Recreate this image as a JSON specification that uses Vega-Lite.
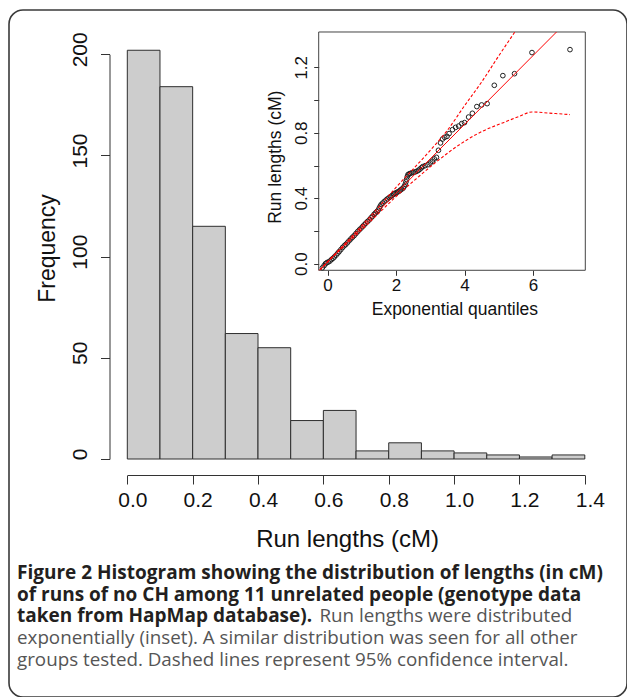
{
  "$schema": "https://vega.github.io/schema/vega-lite/v6.json",
  "width": 618,
  "height": 687,
  "autosize": "none",
  "padding": {"left": 9, "top": 10, "right": 0, "bottom": 0},
  "background": "white",
  "config": {
    "view": {"stroke": "#3a3a3a", "strokeWidth": 1.6, "cornerRadius": 14, "fill": "white"},
    "axis": {
      "grid": false,
      "labelFlush": false,
      "labelOverlap": false,
      "labelBound": false,
      "domainColor": "#333333",
      "tickColor": "#333333",
      "domainWidth": 1,
      "tickWidth": 1,
      "labelColor": "#111111",
      "titleColor": "#111111",
      "labelFont": "Liberation Sans",
      "titleFont": "Liberation Sans",
      "titleFontWeight": "normal"
    }
  },
  "title": {
    "text": [
      "Figure 2 Histogram showing the distribution of lengths (in cM)",
      "of runs of no CH among 11 unrelated people (genotype data",
      "taken from HapMap database)."
    ],
    "subtitle": [
      "\u200b\u00a0\u00a0\u00a0\u00a0\u00a0\u00a0\u00a0\u00a0\u00a0\u00a0\u00a0\u00a0\u00a0\u00a0\u00a0\u00a0\u00a0\u00a0\u00a0\u00a0\u00a0\u00a0\u00a0\u00a0\u00a0\u00a0\u00a0\u00a0\u00a0\u00a0\u00a0\u00a0\u00a0\u00a0\u00a0\u00a0\u00a0\u00a0\u00a0\u00a0\u00a0\u00a0\u00a0\u00a0\u00a0\u00a0\u00a0\u00a0\u00a0\u00a0\u00a0\u00a0\u00a0\u00a0\u00a0\u00a0\u00a0\u00a0\u00a0\u00a0\u00a0\u00a0Run lengths were distributed",
      "exponentially (inset). A similar distribution was seen for all other",
      "groups tested. Dashed lines represent 95% confidence interval."
    ],
    "orient": "bottom",
    "anchor": "start",
    "frame": "group",
    "offset": -133,
    "dx": 8,
    "font": "Open Sans",
    "fontSize": 19,
    "fontWeight": "bold",
    "color": "#231f20",
    "lineHeight": 21.7,
    "subtitleFont": "Open Sans",
    "subtitleFontSize": 18.8,
    "subtitleFontWeight": "normal",
    "subtitleColor": "#555555",
    "subtitleLineHeight": 21.7,
    "subtitlePadding": -19
  },
  "datasets": {
    "hist": [
      {"start": 0.0, "end": 0.1, "count": 202},
      {"start": 0.1, "end": 0.2, "count": 184},
      {"start": 0.2, "end": 0.3, "count": 115},
      {"start": 0.3, "end": 0.4, "count": 62},
      {"start": 0.4, "end": 0.5, "count": 55},
      {"start": 0.5, "end": 0.6, "count": 19},
      {"start": 0.6, "end": 0.7, "count": 24},
      {"start": 0.7, "end": 0.8, "count": 4},
      {"start": 0.8, "end": 0.9, "count": 8},
      {"start": 0.9, "end": 1.0, "count": 4},
      {"start": 1.0, "end": 1.1, "count": 3},
      {"start": 1.1, "end": 1.2, "count": 2},
      {"start": 1.2, "end": 1.3, "count": 1},
      {"start": 1.3, "end": 1.4, "count": 2}
    ],
    "qq": [
      {"q": -0.15, "len": -0.025}, {"q": -0.10, "len": -0.012}, {"q": -0.06, "len": 0.000},
      {"q": -0.02, "len": 0.006}, {"q": 0.02, "len": 0.010}, {"q": 0.07, "len": 0.016},
      {"q": 0.12, "len": 0.026}, {"q": 0.16, "len": 0.033}, {"q": 0.20, "len": 0.041},
      {"q": 0.25, "len": 0.052}, {"q": 0.30, "len": 0.064}, {"q": 0.34, "len": 0.074},
      {"q": 0.39, "len": 0.086}, {"q": 0.44, "len": 0.099}, {"q": 0.49, "len": 0.110},
      {"q": 0.53, "len": 0.117}, {"q": 0.58, "len": 0.128}, {"q": 0.63, "len": 0.140},
      {"q": 0.68, "len": 0.151}, {"q": 0.73, "len": 0.162}, {"q": 0.78, "len": 0.172},
      {"q": 0.83, "len": 0.184}, {"q": 0.88, "len": 0.196}, {"q": 0.93, "len": 0.207},
      {"q": 0.98, "len": 0.217}, {"q": 1.03, "len": 0.228}, {"q": 1.07, "len": 0.237},
      {"q": 1.12, "len": 0.248}, {"q": 1.17, "len": 0.258}, {"q": 1.22, "len": 0.268},
      {"q": 1.27, "len": 0.280}, {"q": 1.31, "len": 0.289}, {"q": 1.36, "len": 0.302},
      {"q": 1.40, "len": 0.310}, {"q": 1.44, "len": 0.318}, {"q": 1.48, "len": 0.327},
      {"q": 1.51, "len": 0.340}, {"q": 1.54, "len": 0.352}, {"q": 1.57, "len": 0.362},
      {"q": 1.61, "len": 0.370}, {"q": 1.66, "len": 0.380}, {"q": 1.71, "len": 0.389},
      {"q": 1.75, "len": 0.396}, {"q": 1.80, "len": 0.404}, {"q": 1.84, "len": 0.410},
      {"q": 1.88, "len": 0.416}, {"q": 1.93, "len": 0.424}, {"q": 1.97, "len": 0.430},
      {"q": 2.01, "len": 0.434}, {"q": 2.05, "len": 0.438}, {"q": 2.09, "len": 0.443},
      {"q": 2.13, "len": 0.450}, {"q": 2.17, "len": 0.456}, {"q": 2.21, "len": 0.462},
      {"q": 2.24, "len": 0.472}, {"q": 2.27, "len": 0.485}, {"q": 2.29, "len": 0.500},
      {"q": 2.31, "len": 0.515}, {"q": 2.33, "len": 0.532}, {"q": 2.35, "len": 0.544},
      {"q": 2.38, "len": 0.548}, {"q": 2.41, "len": 0.551}, {"q": 2.46, "len": 0.555},
      {"q": 2.51, "len": 0.558}, {"q": 2.56, "len": 0.561}, {"q": 2.61, "len": 0.565},
      {"q": 2.66, "len": 0.571}, {"q": 2.70, "len": 0.578}, {"q": 2.74, "len": 0.586},
      {"q": 2.78, "len": 0.593}, {"q": 2.85, "len": 0.599}, {"q": 2.93, "len": 0.605},
      {"q": 3.00, "len": 0.615}, {"q": 3.06, "len": 0.626}, {"q": 3.12, "len": 0.640},
      {"q": 3.18, "len": 0.650}, {"q": 3.24, "len": 0.693}, {"q": 3.30, "len": 0.738},
      {"q": 3.36, "len": 0.762}, {"q": 3.42, "len": 0.772}, {"q": 3.49, "len": 0.778},
      {"q": 3.55, "len": 0.795}, {"q": 3.65, "len": 0.819}, {"q": 3.74, "len": 0.833},
      {"q": 3.83, "len": 0.841}, {"q": 3.92, "len": 0.856}, {"q": 4.00, "len": 0.862},
      {"q": 4.12, "len": 0.896}, {"q": 4.23, "len": 0.919}, {"q": 4.36, "len": 0.960},
      {"q": 4.50, "len": 0.970}, {"q": 4.66, "len": 0.978}, {"q": 4.87, "len": 1.090},
      {"q": 5.12, "len": 1.149}, {"q": 5.46, "len": 1.161}, {"q": 5.97, "len": 1.290},
      {"q": 7.08, "len": 1.308}
    ],
    "fit": [
      {"q": -0.24, "len": -0.0403},
      {"q": 6.687, "len": 1.4157}
    ],
    "band": [
      {"side": "upper", "q": -0.22, "len": -0.038},
      {"side": "upper", "q": 0.0, "len": 0.012},
      {"side": "upper", "q": 0.5, "len": 0.12},
      {"side": "upper", "q": 1.0, "len": 0.232},
      {"side": "upper", "q": 1.5, "len": 0.347},
      {"side": "upper", "q": 2.0, "len": 0.466},
      {"side": "upper", "q": 2.5, "len": 0.578},
      {"side": "upper", "q": 3.0, "len": 0.692},
      {"side": "upper", "q": 3.5, "len": 0.815},
      {"side": "upper", "q": 4.0, "len": 0.965},
      {"side": "upper", "q": 4.5, "len": 1.11},
      {"side": "upper", "q": 5.0, "len": 1.27},
      {"side": "upper", "q": 5.47, "len": 1.4157},
      {"side": "lower", "q": -0.22, "len": -0.038},
      {"side": "lower", "q": 0.0, "len": 0.01},
      {"side": "lower", "q": 0.63, "len": 0.135},
      {"side": "lower", "q": 1.31, "len": 0.27},
      {"side": "lower", "q": 2.0, "len": 0.41},
      {"side": "lower", "q": 2.58, "len": 0.517},
      {"side": "lower", "q": 3.16, "len": 0.619},
      {"side": "lower", "q": 3.85, "len": 0.727},
      {"side": "lower", "q": 4.53, "len": 0.81},
      {"side": "lower", "q": 5.11, "len": 0.86},
      {"side": "lower", "q": 5.6, "len": 0.9},
      {"side": "lower", "q": 5.97, "len": 0.927},
      {"side": "lower", "q": 6.48, "len": 0.92},
      {"side": "lower", "q": 7.08, "len": 0.911}
    ]
  },
  "layer": [
    {
      "data": {"name": "hist"},
      "mark": {"type": "rect", "fill": "#cdcdcd", "stroke": "#2e2e2e", "strokeWidth": 1},
      "encoding": {
        "x": {
          "field": "start", "type": "quantitative",
          "scale": {"domain": [0, 1.4], "range": [118.3, 575.8], "nice": false, "zero": false},
          "axis": {
            "orient": "bottom", "offset": -222,
            "values": [0, 0.2, 0.4, 0.6, 0.8, 1.0, 1.2, 1.4], "format": ".1f",
            "tickSize": 9, "labelFontSize": 21, "labelBaseline": "alphabetic", "labelPadding": 22,
            "labelOffset": 5,
            "title": "Run lengths (cM)", "titleFontSize": 24, "titleX": 338, "titleY": 71,
            "titleBaseline": "alphabetic", "titleAlign": "center"
          }
        },
        "x2": {"field": "end"},
        "y": {
          "field": "count", "type": "quantitative",
          "scale": {"domain": [0, 200], "range": [449, 44.3], "nice": false, "zero": false},
          "axis": {
            "orient": "left", "offset": -100.5,
            "values": [0, 50, 100, 150, 200],
            "tickSize": 9, "labelFontSize": 21, "labelAngle": -90, "labelAlign": "center",
            "labelBaseline": "alphabetic", "labelPadding": 13.8, "labelOffset": -5,
            "title": "Frequency", "titleFontSize": 23, "titleAngle": -90, "titleX": -55, "titleY": 238,
            "titleBaseline": "alphabetic", "titleAlign": "center"
          }
        },
        "y2": {"datum": 0}
      }
    },
    {
      "layer": [
        {
          "data": {"values": [{"box": "inset"}]},
          "mark": {"type": "rect", "filled": false, "color": "#444444", "strokeWidth": 1},
          "encoding": {
            "x": {"datum": -0.257, "type": "quantitative", "title": "Exponential quantiles",
                  "scale": {"domain": [0, 6], "range": [318.5, 524], "nice": false, "zero": false}},
            "x2": {"datum": 7.527},
            "y": {"datum": 1.4157, "type": "quantitative", "title": "Run lengths (cM)",
                  "scale": {"domain": [0, 1.2], "range": [253.7, 57.3], "nice": false, "zero": false}},
            "y2": {"datum": -0.0403}
          }
        },
        {
          "data": {"name": "qq"},
          "mark": {"type": "point", "shape": "circle", "filled": false, "color": "#222222", "size": 22, "strokeWidth": 1, "opacity": 1},
          "encoding": {
            "x": {
              "field": "q", "type": "quantitative",
              "scale": {"domain": [0, 6], "range": [318.5, 524], "nice": false, "zero": false},
              "axis": {
                "orient": "bottom", "offset": -426.7, "domain": false,
                "values": [0, 2, 4, 6], "format": "d",
                "tickSize": 5, "labelFontSize": 17, "labelBaseline": "alphabetic", "labelPadding": 15.4,
                "title": "Exponential quantiles", "titleFontSize": 17.5, "titleX": 445.4, "titleY": 43.7,
                "titleBaseline": "alphabetic", "titleAlign": "center"
              }
            },
            "y": {
              "field": "len", "type": "quantitative",
              "scale": {"domain": [0, 1.2], "range": [253.7, 57.3], "nice": false, "zero": false},
              "axis": {
                "orient": "left", "offset": -309.7, "domain": false,
                "values": [0, 0.2, 0.4, 0.6, 0.8, 1.0, 1.2],
                "labelExpr": "(datum.value == 0 || datum.value == 0.4 || datum.value == 0.8 || datum.value == 1.2) ? format(datum.value, '.1f') : ''",
                "tickSize": 5, "labelFontSize": 17, "labelAngle": -90, "labelAlign": "center",
                "labelBaseline": "alphabetic", "labelPadding": 7.7,
                "title": "Run lengths (cM)", "titleFontSize": 17.5, "titleAngle": -90, "titleX": -38.2, "titleY": 146.7,
                "titleBaseline": "alphabetic", "titleAlign": "center"
              }
            }
          }
        },
        {
          "data": {"name": "fit"},
          "mark": {"type": "line", "color": "#ff0000", "strokeWidth": 1},
          "encoding": {
            "x": {"field": "q", "type": "quantitative", "title": "Exponential quantiles",
                  "scale": {"domain": [0, 6], "range": [318.5, 524], "nice": false, "zero": false}},
            "y": {"field": "len", "type": "quantitative", "title": "Run lengths (cM)",
                  "scale": {"domain": [0, 1.2], "range": [253.7, 57.3], "nice": false, "zero": false}}
          }
        },
        {
          "data": {"name": "band"},
          "mark": {"type": "line", "color": "#ff0000", "strokeWidth": 1.1, "strokeDash": [3, 2], "interpolate": "monotone"},
          "encoding": {
            "x": {"field": "q", "type": "quantitative", "title": "Exponential quantiles",
                  "scale": {"domain": [0, 6], "range": [318.5, 524], "nice": false, "zero": false}},
            "y": {"field": "len", "type": "quantitative", "title": "Run lengths (cM)",
                  "scale": {"domain": [0, 1.2], "range": [253.7, 57.3], "nice": false, "zero": false}},
            "detail": {"field": "side", "type": "nominal"}
          }
        }
      ]
    }
  ],
  "resolve": {"scale": {"x": "independent", "y": "independent"}}
}
